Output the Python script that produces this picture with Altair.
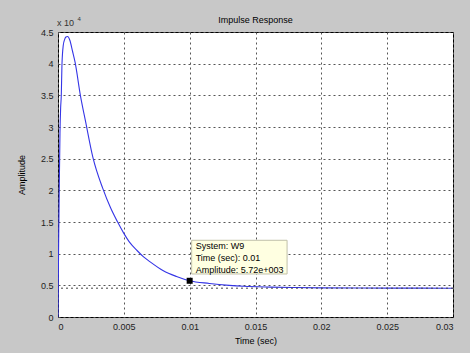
import altair as alt
import pandas as pd

# Impulse response samples (time in seconds, amplitude)
time_s = [0, 0.00005, 0.0001, 0.00015, 0.0002, 0.00025, 0.0003, 0.0004, 0.0005,
          0.0006, 0.00073, 0.0009, 0.0011, 0.0013, 0.0017, 0.0021, 0.00265,
          0.0034, 0.004, 0.0045, 0.005, 0.0054, 0.006, 0.0065, 0.007, 0.008,
          0.009, 0.01, 0.0115, 0.013, 0.0141, 0.0161, 0.018, 0.02, 0.025, 0.03]
amplitude = [0, 12000, 21000, 29000, 33000, 35000, 39800, 42900, 43800,
             44200, 44300, 43700, 42000, 40200, 35000, 30800, 25200,
             20300, 17200, 15100, 13200, 11900, 10500, 9500, 8700, 7300,
             6400, 5720, 5300, 5000, 4850, 4720, 4650, 4600, 4560, 4550]

steady_state = [4550]

tip_system = "W9"
tip_time = [0.01]
tip_amp = [5720]

x_ticks = [0, 0.005, 0.01, 0.015, 0.02, 0.025, 0.03]
y_ticks = [0, 5000, 10000, 15000, 20000, 25000, 30000, 35000, 40000, 45000]

chart_title = "Impulse Response"

FONT = "Liberation Sans"
GRID = "#555555"

df = pd.DataFrame({"t": time_s, "a": amplitude})
ss = pd.DataFrame({"a": steady_state})
tip = pd.DataFrame({
    "t": tip_time,
    "a": tip_amp,
    "l1": [f"System: {tip_system}"],
    "l2": [f"Time (sec): {tip_time[0]:g}"],
    "l3": ["Amplitude: 5.72e+003"],
})

xs = alt.Scale(domain=[0, 0.03], nice=False, zero=False)
ys = alt.Scale(domain=[0, 45000], nice=False)

x_axis = alt.Axis(values=x_ticks, labelExpr="format(datum.value, '~g')",
                  title="Time (sec)", grid=True, gridColor=GRID, gridDash=[2, 3],
                  gridOpacity=1, ticks=False, domain=False, labelFont=FONT,
                  labelFontSize=9, labelColor="#222", labelPadding=5,
                  labelOverlap=False,
                  titleFont=FONT, titleFontSize=9, titleFontWeight="normal",
                  titleColor="#000", titlePadding=5)
y_axis = alt.Axis(values=y_ticks, labelExpr="format(datum.value / 10000, '~g')",
                  title="Amplitude", grid=True, gridColor=GRID, gridDash=[2, 3],
                  gridOpacity=1, ticks=False, domain=False, labelFont=FONT,
                  labelFontSize=9, labelColor="#222", labelPadding=5,
                  labelOverlap=False,
                  titleFont=FONT, titleFontSize=9, titleFontWeight="normal",
                  titleColor="#000", titlePadding=14)


def X():
    return alt.X("t:Q", scale=xs, axis=x_axis)


def Y():
    return alt.Y("a:Q", scale=ys, axis=y_axis)


line = alt.Chart(df).mark_line(color="#3535e6", strokeWidth=1.1, clip=True,
                               interpolate="monotone").encode(
    x=X(), y=Y(), order="t:Q",
)

ss_rule = alt.Chart(ss).mark_rule(color="#444", strokeDash=[2, 3], strokeWidth=1).encode(
    y=Y(),
)

box = alt.Chart(tip).mark_point(
    shape="M2,-6.8 H97.4 V-40.5 H2 Z", size=4, filled=True,
    fill="#ffffe1", stroke="#c0c0a8", strokeWidth=1, opacity=1
).encode(x=X(), y=Y())

marker = alt.Chart(tip).mark_square(size=36, color="#000", opacity=1).encode(
    x=X(), y=Y())


def tip_text(field, dy):
    return alt.Chart(tip).mark_text(align="left", baseline="middle", dx=6, dy=dy,
                                    font=FONT, fontSize=9, color="#000").encode(
        x=X(), y=Y(), text=f"{field}:N")


title_mark = alt.Chart(tip).mark_text(align="center", baseline="middle",
                                      font=FONT, fontSize=9, color="#000").encode(
    x=alt.value(197.5), y=alt.value(-12), text=alt.value(chart_title))

exp_base = alt.Chart(tip).mark_text(align="left", baseline="alphabetic",
                                    font=FONT, fontSize=9, color="#333").encode(
    x=alt.value(-1), y=alt.value(-6), text=alt.value("x 10"))
exp_sup = alt.Chart(tip).mark_text(align="left", baseline="alphabetic",
                                   font=FONT, fontSize=6, color="#333").encode(
    x=alt.value(19.5), y=alt.value(-11), text=alt.value("4"))

chart = alt.layer(
    line, ss_rule, box, marker,
    tip_text("l1", -34.5), tip_text("l2", -22.5), tip_text("l3", -11),
    title_mark, exp_base, exp_sup,
).properties(
    width=395, height=285,
    autosize=alt.AutoSizeParams(type="none"),
    padding={"left": 58, "top": 32, "right": 17, "bottom": 36},
    background="#c8c8c8",
).configure_view(fill="white", stroke="#000", strokeWidth=1)

chart.save("out.html", embed_options={"renderer": "svg", "actions": False})
